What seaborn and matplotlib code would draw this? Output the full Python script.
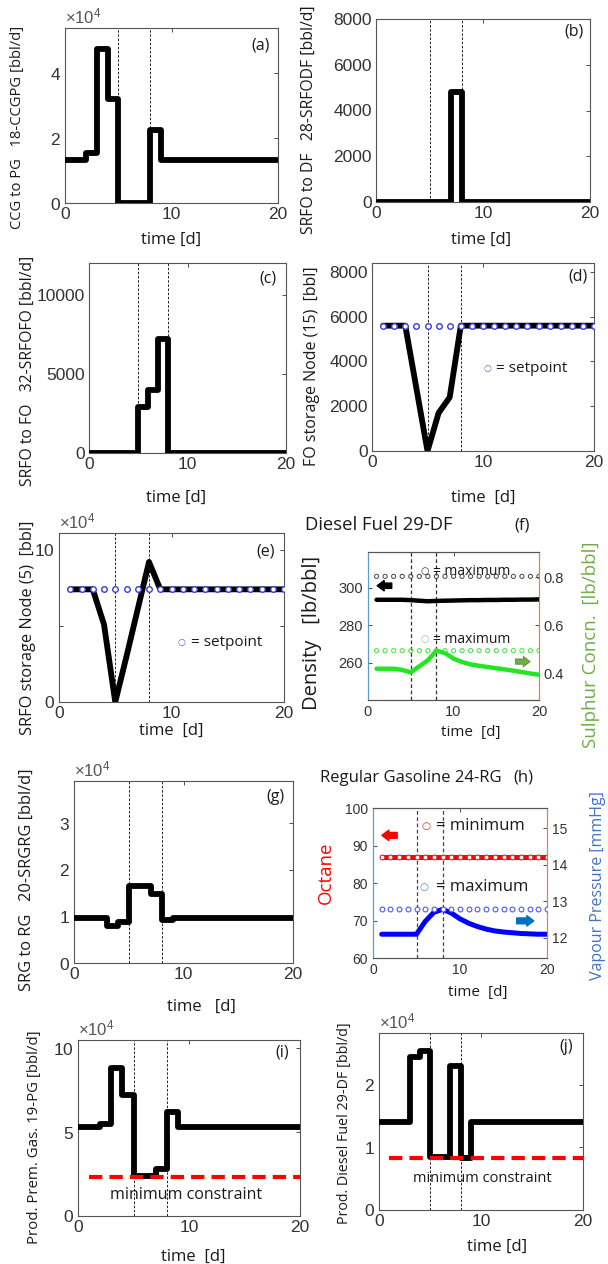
import numpy as np
import pandas as pd
import matplotlib
matplotlib.use("Agg")
import matplotlib.pyplot as plt
import seaborn as sns

# ---- data ----
# (a) CCG to PG, step values (bbl/d)
a_t = [0, 2, 3, 4, 5, 8, 9, 20]
a_v = [13400, 15500, 47500, 32000, 0, 22500, 13400, 13400]
# (b) SRFO to DF
b_t = [0, 7, 8, 20]
b_v = [0, 4800, 0, 0]
# (c) SRFO to FO
c_t = [0, 5, 6, 7, 8, 20]
c_v = [0, 2900, 4000, 7200, 0, 0]
# days for storage / quality series
days = list(range(1, 21))
# (d) FO storage node 15
d_v = [5600, 5600, 5600, 2800, 0, 1700, 2400, 5600, 5600, 5600,
       5600, 5600, 5600, 5600, 5600, 5600, 5600, 5600, 5600, 5600]
d_set = 5600
# (e) SRFO storage node 5
e_v = [74000, 74000, 74000, 51000, 0, 30000, 61000, 92000, 74000, 74000,
       74000, 74000, 74000, 74000, 74000, 74000, 74000, 74000, 74000, 74000]
e_set = 74000
# (f) diesel fuel density and sulphur
f_dens = [293.5, 293.5, 293.5, 293.5, 293.3, 293.0, 292.7, 292.9, 293.0, 293.1,
          293.2, 293.3, 293.3, 293.4, 293.4, 293.5, 293.5, 293.6, 293.6, 293.7]
f_dens_max = 306
f_sulph = [0.42, 0.42, 0.42, 0.415, 0.405, 0.43, 0.455, 0.495, 0.485, 0.462,
           0.448, 0.438, 0.432, 0.427, 0.422, 0.417, 0.412, 0.406, 0.40, 0.395]
f_sulph_max = 0.495
# (g) SRG to RG
g_t = [0, 2, 3, 4, 5, 7, 8, 9, 20]
g_v = [9700, 9600, 8000, 8800, 16500, 14700, 9300, 9700, 9700]
# (h) regular gasoline octane and vapour pressure
h_oct = [86.9] * 20
h_oct_min = 86.9
h_vp = [12.1, 12.1, 12.1, 12.1, 12.1, 12.45, 12.7, 12.78, 12.68, 12.52,
        12.40, 12.31, 12.24, 12.19, 12.16, 12.14, 12.12, 12.11, 12.1, 12.1]
h_vp_max = 12.8
# (i) premium gasoline production
i_t = [0, 2, 3, 4, 5, 7, 8, 9, 20]
i_v = [53000, 55000, 88000, 72000, 24000, 28000, 62000, 53000, 53000]
i_min = 23500
# (j) diesel fuel production
j_t = [0, 3, 4, 5, 7, 8, 9, 20]
j_v = [14000, 24500, 25500, 8500, 23000, 8300, 14000, 14000]
j_min = 8300
events = [5, 8]

sns.set_style("white")
plt.rcParams['font.family'] = ['Liberation Sans', 'DejaVu Sans']
plt.rcParams['axes.edgecolor'] = '#555555'
plt.rcParams['axes.linewidth'] = 0.8
plt.rcParams['mathtext.fontset'] = 'custom'
plt.rcParams['mathtext.rm'] = 'Liberation Sans'
LAB = ['Open Sans', 'DejaVu Sans']
INK = '#1a1a1a'

W, H = 608, 1264
fig = plt.figure(figsize=(W / 100, H / 100), dpi=100)


def add(l, r, t, b):
    return fig.add_axes([l / W, 1 - b / H, (r - l) / W, (b - t) / H])


def base(ax, ylim, yticks, ylabel, ylab_xy, ysize, xlab_y, xlab_x=0.5, sci=False,
         xlab='time [d]'):
    ax.set_xlim(0, 20)
    ax.set_ylim(*ylim)
    ax.set_xticks([0, 10, 20])
    ax.set_yticks(yticks)
    ax.tick_params(direction='in', top=True, right=True, length=3, width=0.6,
                   labelsize=12.5, colors='#333333', pad=3)
    if sci:
        ax.ticklabel_format(axis='y', style='sci', scilimits=(4, 4), useMathText=True)
        ax.yaxis.get_offset_text().set_fontsize(12)
        ax.yaxis.get_offset_text().set_color('#555555')
    ax.set_xlabel(xlab, fontsize=12, family=LAB, color=INK)
    ax.xaxis.set_label_coords(xlab_x, xlab_y)
    ax.set_ylabel(ylabel, fontsize=ysize, family=LAB, color=INK)
    ax.yaxis.set_label_coords(*ylab_xy)
    for e in events:
        ax.axvline(e, color='black', lw=0.6, ls=(0, (3, 2)), zorder=1)


def stairs(ax, t, v):
    sns.lineplot(x=t, y=v, drawstyle='steps-post', color='black', lw=4.2,
                 ax=ax, legend=False, zorder=3)


def tag(ax, s, x, y):
    ax.text(x, y, s, transform=ax.transAxes, ha='right', va='center',
            fontsize=11.5, family=LAB, color=INK)


def key(ax, x, y, col, txt, size, csize=6.5, gap=0.06):
    ax.text(x, y, '\u25cb', transform=ax.transAxes, ha='center', va='center',
            fontsize=csize, color=col, family=['DejaVu Sans'])
    ax.text(x + gap, y, txt, transform=ax.transAxes, ha='left', va='center',
            fontsize=size, family=LAB, color=INK)


# (a)
ax = add(65, 278, 28, 203)
stairs(ax, a_t, a_v)
base(ax, (0, 54000), [0, 20000, 40000], 'CCG to PG   18-CCGPG [bbl/d]',
     (-0.19, 0.43), 10.6, -0.166, sci=True)
tag(ax, '(a)', 0.96, 0.9)

# (b)
ax = add(376, 590, 19, 202)
stairs(ax, b_t, b_v)
base(ax, (0, 8000), [0, 2000, 4000, 6000, 8000], 'SRFO to DF   28-SRFODF [bbl/d]',
     (-0.275, 0.45), 11.3, -0.164, xlab_x=0.49)
tag(ax, '(b)', 0.97, 0.93)

# (c)
ax = add(89, 286, 263, 453)
stairs(ax, c_t, c_v)
base(ax, (0, 12000), [0, 5000, 10000], 'SRFO to FO   32-SRFOFO [bbl/d]',
     (-0.27, 0.43), 11.3, -0.195, xlab_x=0.44)
tag(ax, '(c)', 0.95, 0.92)


def setpoint_panel(ax, v, sp, key_x, key_y):
    sns.lineplot(x=days, y=v, color='black', lw=4.2, ax=ax, legend=False, zorder=3)
    sns.scatterplot(x=days, y=[sp] * len(days), marker='o', s=16, facecolor='white',
                    edgecolor='#3a3adf', linewidth=1.0, ax=ax, legend=False, zorder=4)
    key(ax, key_x, key_y, '#5a5acf', '= setpoint', 11, gap=0.04)


# (d)
ax = add(372, 594, 263, 451)
setpoint_panel(ax, d_v, d_set, 0.52, 0.44)
base(ax, (0, 8400), [0, 2000, 4000, 6000, 8000], 'FO storage Node (15)  [bbl]',
     (-0.234, 0.45), 11.5, -0.207, xlab='time  [d]')
tag(ax, '(d)', 0.97, 0.93)

# (e)
ax = add(59, 284, 533, 702)
setpoint_panel(ax, e_v, e_set, 0.545, 0.35)
base(ax, (0, 111000), [0, 100000], 'SRFO storage Node (5)  [bbl]',
     (-0.10, 0.44), 11.8, -0.124, sci=True, xlab='time  [d]')
ax.set_yticks([50000], minor=True)
ax.tick_params(which='minor', direction='in', left=True, right=True, length=3, width=0.6)
tag(ax, '(e)', 0.96, 0.89)

# (f)
BLUE_SP, ORANGE_SP = '#5b9bd5', '#d9825b'
ax = add(368, 539, 552, 700)
ax2 = ax.twinx()
sns.lineplot(x=days, y=f_dens, color='black', lw=3.2, ax=ax, legend=False, zorder=3)
sns.scatterplot(x=days, y=[f_dens_max] * 20, marker='o', s=9, facecolor='none',
                edgecolor='#444444', linewidth=0.7, ax=ax, legend=False, zorder=4)
sns.lineplot(x=days, y=f_sulph, color='#22e622', lw=3.2, ax=ax2, legend=False, zorder=3)
sns.scatterplot(x=days, y=[f_sulph_max] * 20, marker='o', s=9, facecolor='none',
                edgecolor='#44dd44', linewidth=0.7, ax=ax2, legend=False, zorder=4)
ax.set_xlim(0, 20)
ax.set_ylim(240, 319)
ax.set_yticks([260, 280, 300])
ax.set_xticks([0, 10, 20])
ax2.set_ylim(0.29, 0.905)
ax2.set_yticks([0.4, 0.6, 0.8])
ax.tick_params(direction='in', top=True, right=False, length=3, width=0.6,
               labelsize=10.5, colors='#333333')
ax2.tick_params(direction='in', length=3, width=0.6, labelsize=10.5, colors='#333333')
for e in events:
    ax.axvline(e, color='#333333', lw=0.9, ls=(0, (3, 2)), zorder=1)
for a_ in (ax, ax2):
    a_.spines['left'].set_color(BLUE_SP)
    a_.spines['right'].set_color(ORANGE_SP)
ax.set_xlabel('time  [d]', fontsize=11, family=LAB, color=INK)
ax.xaxis.set_label_coords(0.6, -0.17)
ax.set_ylabel('Density   [lb/bbl]', fontsize=14.5, family=LAB, color=INK)
ax.yaxis.set_label_coords(-0.27, 0.45)
ax2.set_ylabel('Sulphur Concn.  [lb/bbl]', fontsize=13.5, family=LAB, color='#70ad47')
ax2.yaxis.set_label_coords(1.25, 0.37)
key(ax, 0.33, 0.87, '#333333', '= maximum', 10, csize=7, gap=0.05)
key(ax, 0.33, 0.41, '#a8b898', '= maximum', 10, csize=7, gap=0.05)
ax.annotate('', xy=(0.75, 301), xytext=(3.1, 301),
            arrowprops=dict(arrowstyle='simple,head_length=0.5,head_width=0.75,tail_width=0.38',
                            fc='black', ec='black', mutation_scale=10), zorder=5)
ax.annotate('', xy=(19.3, 260.5), xytext=(16.9, 260.5),
            arrowprops=dict(arrowstyle='simple,head_length=0.5,head_width=0.75,tail_width=0.38',
                            fc='#70ad47', ec='#4f7f32', lw=0.5, mutation_scale=10), zorder=5)
fig.text(305 / W, 1 - 525 / H, 'Diesel Fuel 29-DF', fontsize=13.3, family=LAB,
         ha='left', va='center', color=INK)
fig.text(522 / W, 1 - 525 / H, '(f)', fontsize=12, family=LAB,
         ha='center', va='center', color=INK)

# (g)
ax = add(74, 293, 781, 963)
stairs(ax, g_t, g_v)
base(ax, (0, 39000), [0, 10000, 20000, 30000], 'SRG to RG   20-SRGRG [bbl/d]',
     (-0.18, 0.46), 11.8, -0.198, xlab_x=0.58, sci=True, xlab='time   [d]')
tag(ax, '(g)', 0.96, 0.91)

# (h)
ax = add(373, 547, 808, 958)
ax2 = ax.twinx()
sns.lineplot(x=days, y=h_oct, color='#ff0000', lw=3.6, ax=ax, legend=False, zorder=3)
sns.scatterplot(x=days, y=[h_oct_min] * 20, marker='o', s=12, facecolor='white',
                edgecolor='#ee2222', linewidth=0.8, ax=ax, legend=False, zorder=4)
sns.lineplot(x=days, y=h_vp, color='#0000ff', lw=3.6, ax=ax2, legend=False, zorder=3)
sns.scatterplot(x=days, y=[h_vp_max] * 20, marker='o', s=12, facecolor='white',
                edgecolor='#5555ee', linewidth=0.8, ax=ax2, legend=False, zorder=4)
ax.set_xlim(0, 20)
ax.set_ylim(60, 100)
ax.set_yticks([60, 70, 80, 90, 100])
ax.set_xticks([0, 10, 20])
ax2.set_ylim(11.45, 15.55)
ax2.set_yticks([12, 13, 14, 15])
ax.tick_params(direction='in', top=True, right=False, length=3, width=0.6,
               labelsize=10, colors='#333333')
ax2.tick_params(direction='in', length=3, width=0.6, labelsize=10, colors='#333333')
for e in events:
    ax.axvline(e, color='#444444', lw=0.9, ls=(0, (3, 2)), zorder=1)
for a_ in (ax, ax2):
    a_.spines['left'].set_color(BLUE_SP)
    a_.spines['right'].set_color(ORANGE_SP)
ax.set_xlabel('time  [d]', fontsize=11, family=LAB, color=INK)
ax.xaxis.set_label_coords(0.6, -0.18)
ax.set_ylabel('Octane', fontsize=13.5, family=LAB, color='#ff0000')
ax.yaxis.set_label_coords(-0.22, 0.57)
ax2.set_ylabel('Vapour Pressure [mmHg]', fontsize=11.5, family=LAB, color='#4472c4')
ax2.yaxis.set_label_coords(1.245, 0.48)
key(ax, 0.305, 0.88, '#ee2222', '= minimum', 12, csize=7.5, gap=0.055)
key(ax, 0.295, 0.475, '#4a90c8', '= maximum', 12, csize=7.5, gap=0.065)
ax.annotate('', xy=(0.7, 92.7), xytext=(3.1, 92.7),
            arrowprops=dict(arrowstyle='simple,head_length=0.5,head_width=0.75,tail_width=0.42',
                            fc='#ff0000', ec='#ff0000', mutation_scale=10), zorder=5)
ax.annotate('', xy=(18.8, 69.9), xytext=(16.2, 69.9),
            arrowprops=dict(arrowstyle='simple,head_length=0.5,head_width=0.75,tail_width=0.42',
                            fc='#0070c0', ec='#0070c0', mutation_scale=10), zorder=5)
fig.text(320 / W, 1 - 778 / H, 'Regular Gasoline 24-RG', fontsize=12, family=LAB,
         ha='left', va='center', color=INK)
fig.text(523 / W, 1 - 778 / H, '(h)', fontsize=12, family=LAB,
         ha='center', va='center', color=INK)


def min_line(ax, y):
    sns.lineplot(x=[1, 20], y=[y, y], color='#ff0000', lw=3.0, ax=ax, legend=False,
                 zorder=4, dashes=False, linestyle=(0, (3.2, 1.7)))


# (i)
ax = add(78, 300, 1040, 1216)
stairs(ax, i_t, i_v)
min_line(ax, i_min)
base(ax, (0, 105000), [0, 50000, 100000], 'Prod. Prem. Gas. 19-PG [bbl/d]',
     (-0.16, 0.45), 10.8, -0.1875, xlab_x=0.52, sci=True, xlab='time  [d]')
ax.text(9.75, 12800, 'minimum constraint', ha='center', va='center', fontsize=11.5,
        family=LAB, color=INK)
tag(ax, '(i)', 0.95, 0.93)

# (j)
ax = add(379, 583, 1033, 1210)
stairs(ax, j_t, j_v)
min_line(ax, j_min)
base(ax, (0, 28300), [0, 10000, 20000], 'Prod. Diesel Fuel 29-DF [bbl/d]',
     (-0.13, 0.49), 10.3, -0.164, xlab_x=0.58, sci=True)
ax.text(10.1, 5100, 'minimum constraint', ha='center', va='center', fontsize=10.5,
        family=LAB, color=INK)
tag(ax, '(j)', 0.95, 0.92)

fig.savefig('out.png', dpi=100)
